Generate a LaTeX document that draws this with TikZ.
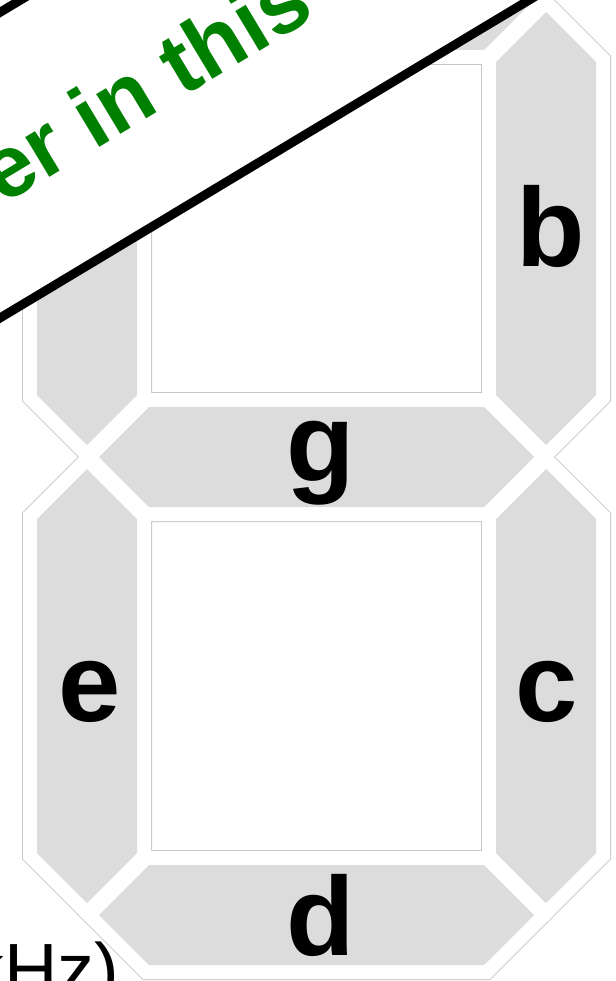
\documentclass[tikz,border=0pt]{standalone}
\usepackage{fontspec}
\newfontfamily\labfont{Liberation Sans}
\definecolor{segfill}{HTML}{DCDCDC}
\definecolor{ringcol}{HTML}{C6C6C6}
\definecolor{bannergreen}{HTML}{008000}
\newcommand{\vsegpath}[3]{(#1,#2) -- (#1+50,#2+50) -- (#1+50,#3-50) -- (#1,#3) -- (#1-50,#3-50) -- (#1-50,#2+50) -- cycle}
\newcommand{\hsegpath}[3]{(#2,#1) -- (#2+50,#1-50) -- (#3-50,#1-50) -- (#3,#1) -- (#3-50,#1+50) -- (#2+50,#1+50) -- cycle}
\newcommand{\allsegs}[1]{%
  \path[#1] \hsegpath{0}{99}{534};
  \path[#1] \vsegpath{546}{12}{445};
  \path[#1] \vsegpath{546}{469}{903};
  \path[#1] \hsegpath{915}{99}{534};
  \path[#1] \vsegpath{87}{469}{903};
  \path[#1] \vsegpath{87}{12}{445};
  \path[#1] \hsegpath{457}{99}{534};
}
\begin{document}
\begin{tikzpicture}[x=1pt,y=-1pt,
  seglabel/.style={font=\fontsize{112}{112}\selectfont\labfont\bfseries, anchor=base, inner sep=0pt},
  halo/.style={line join=miter}]
\useasboundingbox (0,0) rectangle (615,981);
\clip (0,0) rectangle (615,981);
\fill[white] (0,0) rectangle (615,981);
% outline ring, white halo, gray segments
\allsegs{draw=ringcol, line width=30pt, halo}
\allsegs{draw=white, line width=28pt, halo}
\allsegs{fill=segfill}
% labels
\node[seglabel] (lb) at (551,267) {b};
\node[seglabel] (lc) at (547,721) {c};
\node[seglabel] (ld) at (321,955) {d};
\node[seglabel] (le) at (90,721) {e};
\node[seglabel] (lg) at (321,481) {g};
% axis unit text, cut by the frame
\node[anchor=base west, inner sep=0pt, font=\fontsize{74}{74}\selectfont\labfont] (unit) at (-33,995) {kHz)};
% diagonal banner
\begin{scope}[shift={(0,318)}, rotate=31]
  \draw[line width=9pt, fill=white] (-300,0) rectangle (1000,-262);
  \node[anchor=base west, inner sep=0pt, rotate=31, text=bannergreen,
        font=\fontsize{88}{88}\selectfont\labfont\bfseries] (bannertext) at (60,-95) {er in this};
\end{scope}
\end{tikzpicture}
\end{document}
